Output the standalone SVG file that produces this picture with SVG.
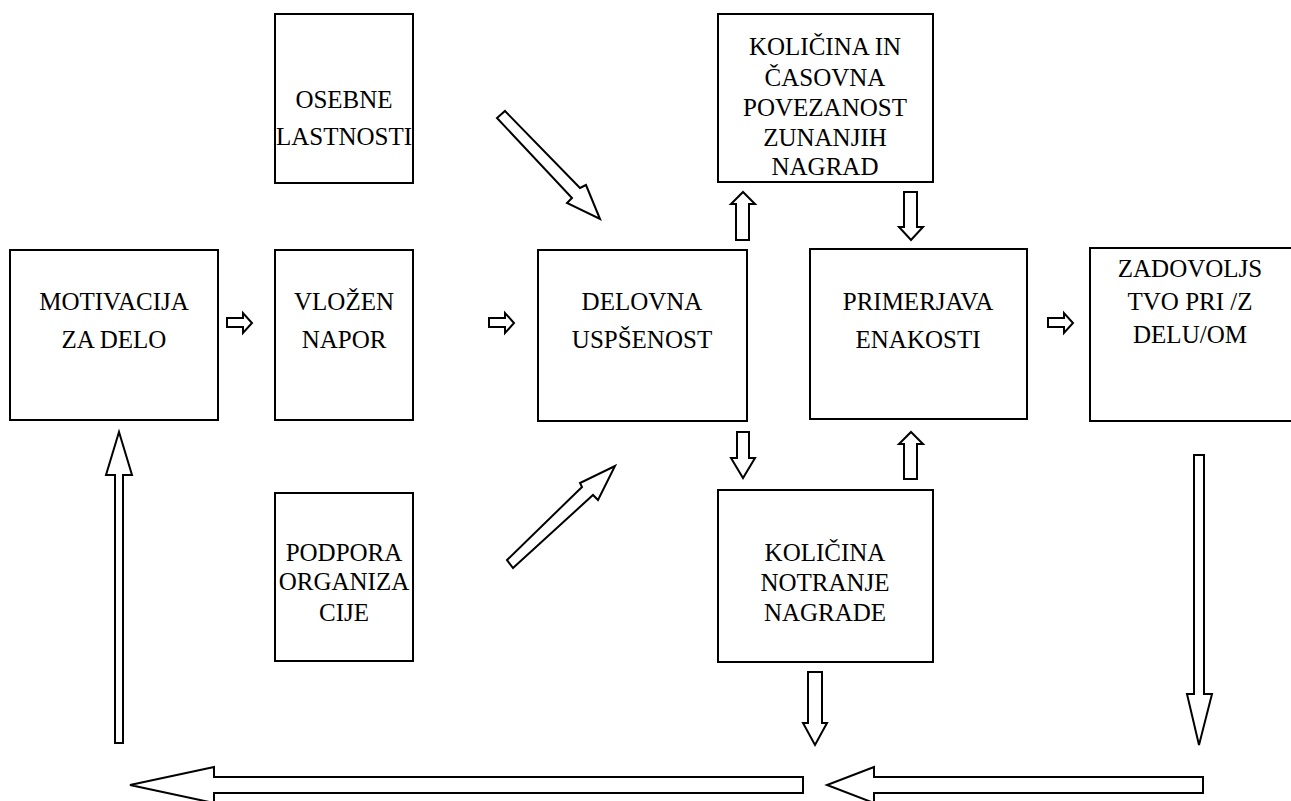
<svg xmlns="http://www.w3.org/2000/svg" width="1291" height="801" viewBox="0 0 1291 801">
  <style>
    .box { fill: #fff; stroke: #000; stroke-width: 2; }
    .arrow { fill: #fff; stroke: #000; stroke-width: 2; stroke-linejoin: miter; }
    text { font-family: "Liberation Serif", "Times New Roman", serif; font-size: 25px; fill: #000; text-anchor: middle; }
  </style>
  <rect width="1291" height="801" fill="#fff"/>

  <g id="motivacija">
    <rect class="box" x="10" y="250" width="208" height="170"/>
    <text x="114" y="310">MOTIVACIJA</text>
    <text x="114" y="348">ZA DELO</text>
  </g>
  <g id="vlozen-napor">
    <rect class="box" x="275" y="250" width="138" height="170"/>
    <text x="344" y="310">VLOŽEN</text>
    <text x="344" y="348">NAPOR</text>
  </g>
  <g id="delovna-uspesnost">
    <rect class="box" x="538" y="250" width="209" height="171"/>
    <text x="642" y="310">DELOVNA</text>
    <text x="642" y="348">USPŠENOST</text>
  </g>
  <g id="primerjava-enakosti">
    <rect class="box" x="810" y="249" width="217" height="170"/>
    <text x="918" y="310">PRIMERJAVA</text>
    <text x="918" y="348">ENAKOSTI</text>
  </g>
  <g id="zadovoljstvo">
    <rect class="box" x="1090" y="248" width="210" height="173"/>
    <text x="1190" y="277">ZADOVOLJS</text>
    <text x="1190" y="310">TVO PRI /Z</text>
    <text x="1190" y="343">DELU/OM</text>
  </g>
  <g id="osebne-lastnosti">
    <rect class="box" x="275" y="14" width="138" height="169"/>
    <text x="344" y="108">OSEBNE</text>
    <text x="344" y="145">LASTNOSTI</text>
  </g>
  <g id="zunanje-nagrade">
    <rect class="box" x="718" y="14" width="215" height="168"/>
    <text x="825" y="55">KOLIČINA IN</text>
    <text x="825" y="86">ČASOVNA</text>
    <text x="825" y="116">POVEZANOST</text>
    <text x="825" y="146">ZUNANJIH</text>
    <text x="825" y="175">NAGRAD</text>
  </g>
  <g id="podpora-organizacije">
    <rect class="box" x="275" y="493" width="138" height="168"/>
    <text x="344" y="561">PODPORA</text>
    <text x="344" y="590">ORGANIZA</text>
    <text x="344" y="621">CIJE</text>
  </g>
  <g id="notranje-nagrade">
    <rect class="box" x="718" y="490" width="215" height="172"/>
    <text x="825" y="561">KOLIČINA</text>
    <text x="825" y="591">NOTRANJE</text>
    <text x="825" y="621">NAGRADE</text>
  </g>

  <g id="connectors">
    <!-- small right-pointing block arrows -->
    <polygon class="arrow" points="227,318 243,318 243,313 252,323 243,333 243,327 227,327"/>
    <polygon class="arrow" points="489,318 505,318 505,313 514,323 505,333 505,327 489,327"/>
    <polygon class="arrow" points="1048,318 1064,318 1064,313 1073,323 1064,333 1064,327 1048,327"/>
    <!-- diagonal block arrows into DELOVNA USPŠENOST -->
    <polygon class="arrow" points="505,111 580,188 586,185 600,219 567,203 572,198 497,118"/>
    <polygon class="arrow" points="507,560 582,487 580,483 615,466 598,500 593,495 513,568"/>
    <!-- vertical block arrows around the centre -->
    <polygon class="arrow" points="736,240 736,204 731,204 743,192 755,204 749,204 749,240"/>
    <polygon class="arrow" points="904,192 917,192 917,227 923,227 911,240 899,227 904,227"/>
    <polygon class="arrow" points="737,432 749,432 749,458 755,458 743,478 731,458 737,458"/>
    <polygon class="arrow" points="904,479 904,444 899,444 911,432 923,444 917,444 917,479"/>
    <!-- long return arrows -->
    <polygon class="arrow" points="808,672 822,672 822,723 827,723 815,745 803,723 808,723"/>
    <polygon class="arrow" points="1194,455 1204,455 1204,694 1212,694 1199,745 1187,694 1194,694"/>
    <polygon class="arrow" points="115,743 115,475 106,475 119,432 132,475 123,475 123,743"/>
    <polygon class="arrow" points="1203,777 1203,793 874,793 874,803 827,785 874,767 874,777"/>
    <polygon class="arrow" points="803,777 803,793 214,793 214,803 130,785 214,767 214,777"/>
  </g>
</svg>
